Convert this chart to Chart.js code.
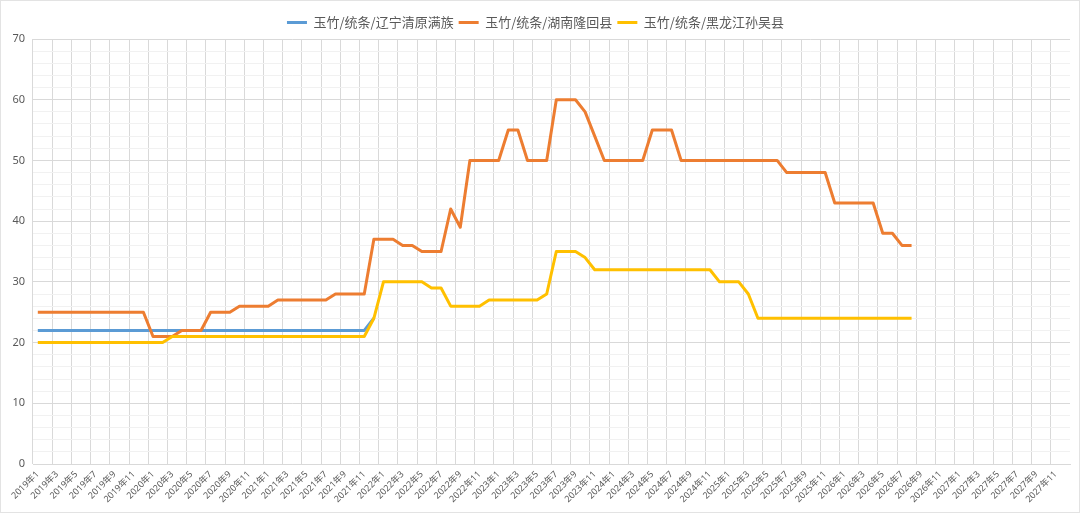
<!DOCTYPE html>
<html>
<head>
<meta charset="utf-8">
<script src="https://cdn.jsdelivr.net/npm/chart.js@4.4.1/dist/chart.umd.min.js"></script>
<style>
  html, body { margin: 0; padding: 0; background: #ffffff; }
  #wrap { position: absolute; left: 0; top: 0; width: 1080px; height: 513px; box-sizing: border-box; border: 1px solid #e3e3e3; background: #fff; }
  canvas { display: block; }
</style>
</head>
<body>
<div id="wrap"><canvas id="c" width="1078" height="511"></canvas></div>
<script>
// ---- data ----
const years = [2019, 2020, 2021, 2022, 2023, 2024, 2025, 2026, 2027];
const months = [1,2,3,4,5,6,7,8,9,10,11,12];
const categories = [];
years.forEach(y => months.forEach(m => categories.push(y + '年' + m)));

const seriesNames = ['玉竹/统条/辽宁清原满族', '玉竹/统条/湖南隆回县', '玉竹/统条/黑龙江孙吴县'];

// 辽宁清原满族 (2019年1 – 2021年12)
const liaoning = [
  22,22,22,22,22,22,22,22,22,22,22,22,
  22,22,22,22,22,22,22,22,22,22,22,22,
  22,22,22,22,22,22,22,22,22,22,22,24
];
// 湖南隆回县 (2019年1 – 2026年8)
const hunan = [
  25,25,25,25,25,25,25,25,25,25,25,25,
  21,21,21,22,22,22,25,25,25,26,26,26,
  26,27,27,27,27,27,27,28,28,28,28,37,
  37,37,36,36,35,35,35,42,39,50,50,50,
  50,55,55,50,50,50,60,60,60,58,54,50,
  50,50,50,50,55,55,55,50,50,50,50,50,
  50,50,50,50,50,50,48,48,48,48,48,43,
  43,43,43,43,38,38,36,36
];
// 黑龙江孙吴县 (2019年1 – 2026年8)
const heilongjiang = [
  20,20,20,20,20,20,20,20,20,20,20,20,
  20,20,21,21,21,21,21,21,21,21,21,21,
  21,21,21,21,21,21,21,21,21,21,21,24,
  30,30,30,30,30,29,29,26,26,26,26,27,
  27,27,27,27,27,28,35,35,35,34,32,32,
  32,32,32,32,32,32,32,32,32,32,32,30,
  30,30,28,24,24,24,24,24,24,24,24,24,
  24,24,24,24,24,24,24,24
];
const yMin = 0, yMax = 70, yMajor = 10, yMinor = 2;

const colors = ['#5B9BD5', '#ED7D31', '#FFC000'];
const seriesData = [liaoning, hunan, heilongjiang];

const tickFont = { family: "'Noto Sans', 'Noto Sans CJK SC', sans-serif", size: 9 };

new Chart(document.getElementById('c'), {
  type: 'line',
  data: {
    labels: categories,
    datasets: seriesNames.map((name, i) => ({
      label: name,
      data: seriesData[i],
      borderColor: colors[i],
      backgroundColor: colors[i],
      borderWidth: 3,
      pointRadius: 0,
      pointHoverRadius: 0,
      tension: 0,
      fill: false,
      borderJoinStyle: 'round',
      borderCapStyle: 'butt',
      spanGaps: false,
      order: 3 - i
    }))
  },
  options: {
    responsive: false,
    animation: false,
    devicePixelRatio: 1,
    layout: { padding: { left: 0, right: 9, top: 10, bottom: 0 } },
    plugins: {
      tooltip: { enabled: false },
      legend: {
        position: 'top',
        align: 'center',
        labels: {
          boxWidth: 20,
          boxHeight: 3,
          padding: 5,
          color: '#595959',
          font: { family: "'Noto Sans CJK SC', 'Noto Sans', sans-serif", size: 13 },
          generateLabels: (chart) => Chart.defaults.plugins.legend.labels.generateLabels(chart)
            .map(it => Object.assign(it, { lineWidth: 0, fillStyle: it.strokeStyle }))
            .sort((a, b) => a.datasetIndex - b.datasetIndex)
        }
      }
    },
    scales: {
      x: {
        type: 'category',
        offset: true,
        grid: {
          offset: true,
          drawTicks: false,
          color: (ctx) => (ctx.index % 2 === 0 ? '#d9d9d9' : 'rgba(0,0,0,0)'),
          lineWidth: 1
        },
        border: { display: true, color: '#d9d9d9' },
        ticks: {
          autoSkip: false,
          maxRotation: 45,
          minRotation: 45,
          padding: 5,
          color: '#595959',
          font: tickFont,
          callback: function (val, idx) { return idx % 2 === 0 ? this.getLabelForValue(val) : ''; }
        },
        afterFit: (scale) => { scale.height = 48; }
      },
      y: {
        min: yMin,
        max: yMax,
        grid: {
          drawTicks: false,
          color: (ctx) => (ctx.tick && ctx.tick.value % yMajor === 0 ? '#d9d9d9' : '#f1f1f1'),
          lineWidth: 1
        },
        border: { display: false },
        ticks: {
          autoSkip: false,
          stepSize: yMinor,
          padding: 8,
          color: '#595959',
          font: { family: "'Noto Sans', sans-serif", size: 11 },
          callback: (v) => (v % yMajor === 0 ? v : '')
        },
        afterFit: (scale) => { scale.width = 32; }
      }
    }
  }
});
</script>
</body>
</html>
